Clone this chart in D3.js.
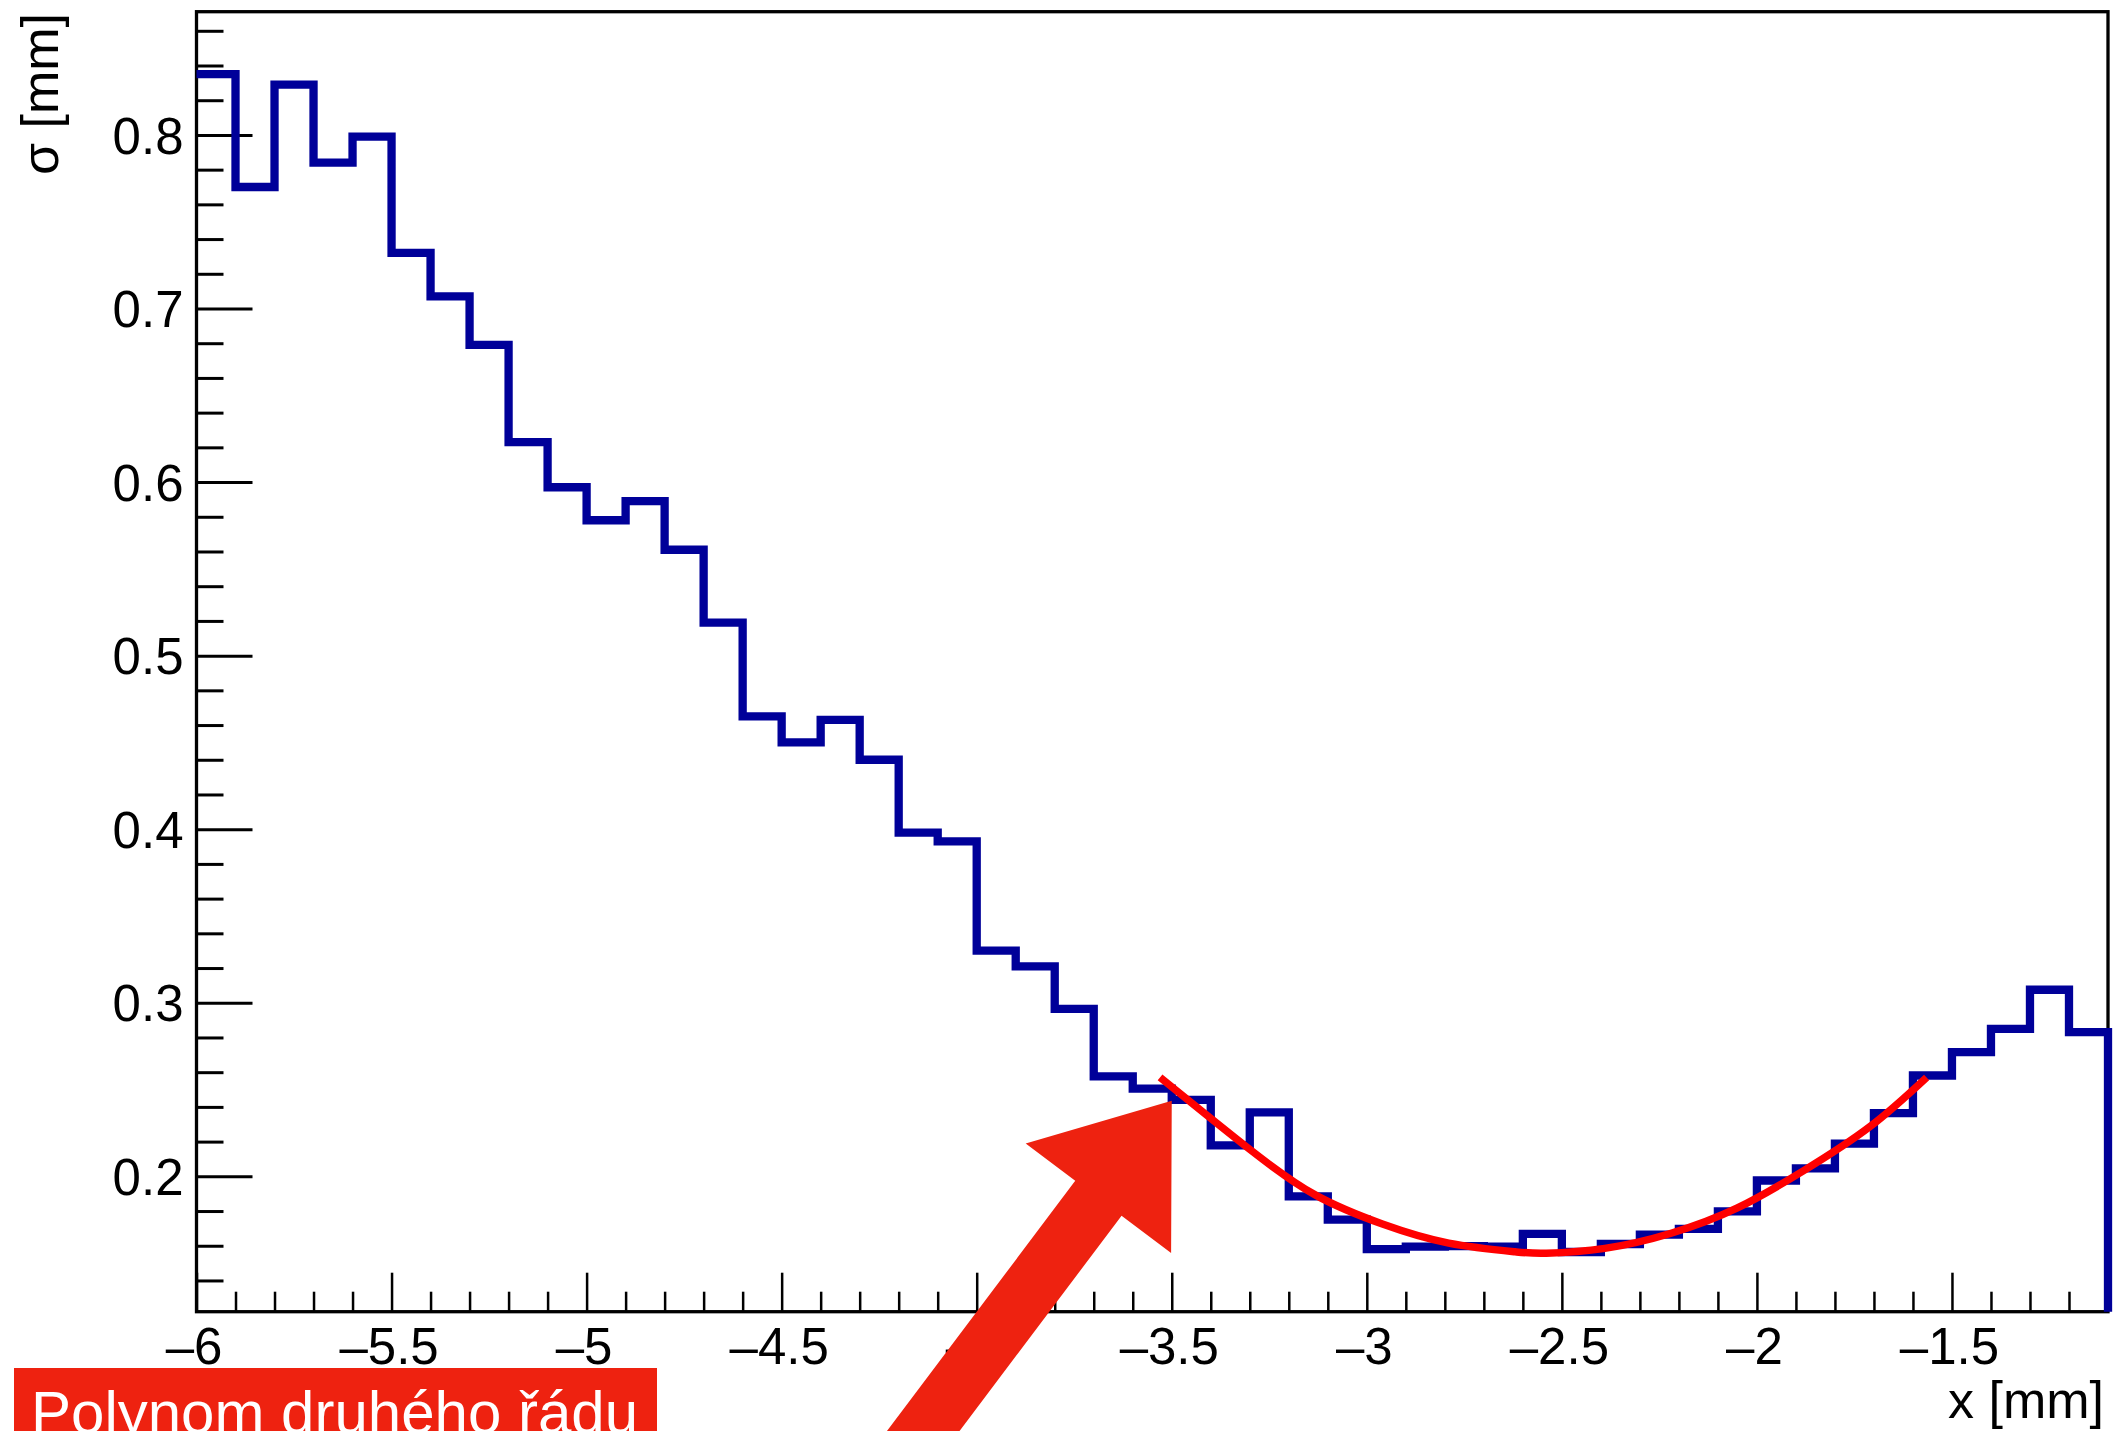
<!DOCTYPE html>
<html>
<head>
<meta charset="utf-8">
<title>sigma vs x</title>
<script src="https://cdn.jsdelivr.net/npm/d3@7"></script>
<style>
  body { margin: 0; background: #fff; }
  svg { display: block; }
  text { font-family: "Liberation Sans", Arial, Helvetica, sans-serif; }
</style>
</head>
<body>
<div id="chart"></div>
<script>

// histogram: sigma in each 0.1 mm bin, first bin starts at x = -6
var xStart = -6, binWidth = 0.1;
var sigma = [
  0.835, 0.770, 0.829, 0.784, 0.799, 0.732, 0.707, 0.679, 0.623, 0.597,
  0.578, 0.589, 0.561, 0.519, 0.465, 0.450, 0.463, 0.440, 0.398, 0.393,
  0.330, 0.321, 0.2965, 0.2576, 0.2505, 0.2441, 0.2178, 0.2368, 0.1884, 0.175,
  0.1580, 0.1595, 0.1598, 0.1595, 0.1668, 0.1564, 0.1610, 0.1664, 0.1697, 0.1798,
  0.1976, 0.2046, 0.2188, 0.2364, 0.2581, 0.2716, 0.2850, 0.3075, 0.2831
];

// second order polynomial fit
var fitX = [-3.53, -3.30, -3.13, -2.96, -2.79, -2.62, -2.54, -2.39, -2.22, -2.05, -1.88, -1.71, -1.565];
var fitY = [0.257, 0.2155, 0.189, 0.1725, 0.1615, 0.1565, 0.1557, 0.1585, 0.1672, 0.1818, 0.2033, 0.2287, 0.257];

// axes
var xDomain = [-6, -1.1];
var yDomain = [0.122, 0.871];
var xTicks = [-6, -5.5, -5, -4.5, -4, -3.5, -3, -2.5, -2, -1.5];
var xTickLabels = ["\u20136", "\u20135.5", "\u20135", "\u20134.5", "\u20134", "\u20133.5", "\u20133", "\u20132.5", "\u20132", "\u20131.5"];
var yTicks = [0.2, 0.3, 0.4, 0.5, 0.6, 0.7, 0.8];
var yTickLabels = ["0.2", "0.3", "0.4", "0.5", "0.6", "0.7", "0.8"];
var xTitle = "x [mm]", yTitle = "\u03c3 [mm]";

// annotation: arrow pointing at the start of the fit
var noteText = "Polynom druh\u00e9ho \u0159\u00e1du";
var arrowFrom = [-4.24, 0.0225], arrowTo = [-3.5, 0.2435];

var W = 2117, H = 1431;
var plotL = 196.5, plotR = 2108, plotT = 11.7, plotB = 1311.7;
var blue = "#000099", red = "#ff0000", noteRed = "#ee2210";

var svg = d3.select("#chart").append("svg")
  .attr("width", W).attr("height", H);

svg.append("rect").attr("width", W).attr("height", H).attr("fill", "#fff");

var x = d3.scaleLinear().domain(xDomain).range([plotL, plotR]);
var y = d3.scaleLinear().domain(yDomain).range([plotB, plotT]);

// minor ticks
var xMinor = d3.range(1, 49).filter(function(i){ return i % 5 != 0; })
  .map(function(i){ return xStart + i * 0.1; });
var yMinor = d3.range(7, 44).filter(function(i){ return i % 5 != 0; })
  .map(function(i){ return i * 0.02; });

// y axis (ticks point inside the frame)
var gy = svg.append("g").attr("transform", "translate(" + plotL + ",0)");
gy.call(d3.axisLeft(y).tickValues(yMinor).tickSize(-27).tickFormat(""));
gy.select(".domain").remove();
var gy2 = svg.append("g").attr("transform", "translate(" + plotL + ",0)");
gy2.call(d3.axisLeft(y).tickValues(yTicks).tickSize(-56).tickPadding(13)
  .tickFormat(function(d, i){ return yTickLabels[i]; }));
gy2.select(".domain").remove();

var gx = svg.append("g").attr("transform", "translate(0," + plotB + ")");
gx.call(d3.axisBottom(x).tickValues(xMinor).tickSize(-20).tickFormat(""));
gx.select(".domain").remove();
var gx2 = svg.append("g").attr("transform", "translate(0," + plotB + ")");
gx2.call(d3.axisBottom(x).tickValues(xTicks).tickSize(-39).tickPadding(16)
  .tickFormat(function(d, i){ return xTickLabels[i]; }));
gx2.select(".domain").remove();

svg.selectAll(".tick line").attr("stroke", "#000");
gy.selectAll(".tick line").attr("stroke-width", 3);
gy2.selectAll(".tick line").attr("stroke-width", 3);
gx.selectAll(".tick line").attr("stroke-width", 2.5);
gx2.selectAll(".tick line").attr("stroke-width", 2.5);

svg.selectAll(".tick text")
  .attr("fill", "#000")
  .style("font-size", "51px");
gy2.selectAll(".tick text").attr("dy", "0.355em");
gx2.selectAll(".tick text").attr("dx", -3);

// frame
svg.append("rect")
  .attr("x", plotL).attr("y", plotT)
  .attr("width", plotR - plotL).attr("height", plotB - plotT)
  .attr("fill", "none").attr("stroke", "#000").attr("stroke-width", 3.3);

// histogram outline
var histPts = sigma.map(function(v, i){ return [xStart + i * binWidth, v]; });
histPts.push([xStart + sigma.length * binWidth, sigma[sigma.length - 1]]);
histPts.push([xStart + sigma.length * binWidth, yDomain[0]]);

var step = d3.line()
  .x(function(d){ return x(d[0]); })
  .y(function(d){ return y(d[1]); })
  .curve(d3.curveStepAfter);

svg.append("path")
  .datum(histPts)
  .attr("d", step)
  .attr("fill", "none")
  .attr("stroke", blue)
  .attr("stroke-width", 8.3)
  .attr("stroke-linejoin", "miter");

// fit
var fitLine = d3.line()
  .x(function(d){ return x(d[0]); })
  .y(function(d){ return y(d[1]); })
  .curve(d3.curveNatural);

svg.append("path")
  .datum(fitX.map(function(v, i){ return [v, fitY[i]]; }))
  .attr("d", fitLine)
  .attr("fill", "none")
  .attr("stroke", red)
  .attr("stroke-width", 7.5);

// arrow
var p0 = [x(arrowFrom[0]), y(arrowFrom[1])], p1 = [x(arrowTo[0]), y(arrowTo[1])];
var len = Math.hypot(p1[0] - p0[0], p1[1] - p0[1]);
var u = [(p1[0] - p0[0]) / len, (p1[1] - p0[1]) / len];
var n = [-u[1], u[0]];
var headLen = 122, headW = 182, shaftW = 58;
var base = [p1[0] - u[0] * headLen, p1[1] - u[1] * headLen];
function off(p, k){ return [p[0] + n[0] * k, p[1] + n[1] * k]; }
var arrowPts = [
  off(p0, shaftW / 2), off(base, shaftW / 2), off(base, headW / 2), p1,
  off(base, -headW / 2), off(base, -shaftW / 2), off(p0, -shaftW / 2)
];
svg.append("polygon")
  .attr("points", arrowPts.map(function(p){ return p.join(","); }).join(" "))
  .attr("fill", noteRed);

// note box
svg.append("rect")
  .attr("x", 14).attr("y", 1368)
  .attr("width", 643).attr("height", 80)
  .attr("fill", noteRed);
svg.append("text")
  .attr("x", 31).attr("y", 1433)
  .attr("fill", "#fff")
  .style("font-size", "60px")
  .text(noteText);

// axis titles
svg.append("text")
  .attr("transform", "translate(58,13) rotate(-90)")
  .attr("text-anchor", "end")
  .style("font-size", "52px")
  .text(yTitle);

svg.append("text")
  .attr("x", 2104).attr("y", 1418)
  .attr("text-anchor", "end")
  .style("font-size", "52px")
  .text(xTitle);

</script>
</body>
</html>
